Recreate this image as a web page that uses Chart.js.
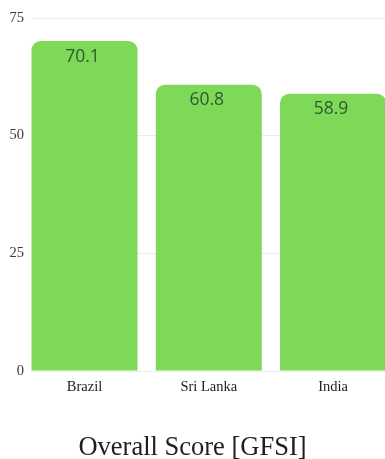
<!DOCTYPE html>
<html>
<head>
<meta charset="utf-8">
<script src="https://cdn.jsdelivr.net/npm/chart.js@4.4.1/dist/chart.umd.min.js"></script>
<style>
  html, body { margin: 0; padding: 0; background: #ffffff; overflow: hidden; }
  #wrap { position: relative; width: 385px; height: 459px; }
</style>
</head>
<body>
<div id="wrap"><canvas id="c"></canvas></div>
<script>
const categories = ['Brazil', 'Sri Lanka', 'India'];
const scores = [70.1, 60.8, 58.9];
const yTicks = [0, 25, 50, 75];
const chartTitle = 'Overall Score [GFSI]';

const valueLabels = {
  id: 'valueLabels',
  afterDatasetsDraw(chart) {
    const ctx = chart.ctx;
    const meta = chart.getDatasetMeta(0);
    ctx.save();
    ctx.font = '17.5px "Open Sans", sans-serif';
    ctx.fillStyle = '#2f5a2b';
    ctx.textAlign = 'center';
    ctx.textBaseline = 'middle';
    meta.data.forEach((bar, i) => {
      ctx.fillText(scores[i].toFixed(1), bar.x - 2, bar.y + 15.5);
    });
    ctx.restore();
  }
};

new Chart(document.getElementById('c'), {
  type: 'bar',
  data: {
    datasets: [{
      data: scores.map((v, i) => ({ x: i, y: v })),
      backgroundColor: '#7dd957',
      borderWidth: 0,
      borderRadius: { topLeft: 9, topRight: 9, bottomLeft: 0, bottomRight: 0 },
      borderSkipped: false,
      barPercentage: 0.853,
      categoryPercentage: 1.0
    }]
  },
  options: {
    responsive: true,
    maintainAspectRatio: false,
    animation: false,
    layout: { padding: { top: 18, left: 0, right: 0, bottom: 0 } },
    plugins: {
      legend: { display: false },
      tooltip: { enabled: false },
      title: {
        display: true,
        position: 'bottom',
        text: chartTitle,
        color: '#1e1e1e',
        font: { family: '"Liberation Serif", serif', size: 26.5, weight: 'normal', lineHeight: 0.75 },
        padding: { top: 0, bottom: 1 }
      }
    },
    scales: {
      x: {
        type: 'linear',
        offset: false,
        min: -0.4306,
        max: 2.418,
        grid: { display: false, drawTicks: false, offset: false },
        border: { display: false },
        afterBuildTicks: s => { s.ticks = categories.map((c, i) => ({ value: i })); },
        afterFit: s => { s.height = 67.1; },
        ticks: {
          autoSkip: false,
          maxRotation: 0,
          padding: 7.5,
          color: '#222222',
          font: { family: '"Liberation Serif", serif', size: 14.5 },
          callback: v => categories[v] !== undefined ? categories[v] : ''
        }
      },
      y: {
        min: 0,
        max: 75,
        afterBuildTicks: s => { s.ticks = yTicks.map(v => ({ value: v })); },
        afterFit: s => { s.width = 31; },
        grid: { color: '#ececec', lineWidth: 1, drawTicks: false },
        border: { display: false },
        ticks: {
          padding: 7,
          color: '#3a3a3a',
          font: { family: '"Liberation Serif", serif', size: 14.5 }
        }
      }
    }
  },
  plugins: [valueLabels]
});
</script>
</body>
</html>
